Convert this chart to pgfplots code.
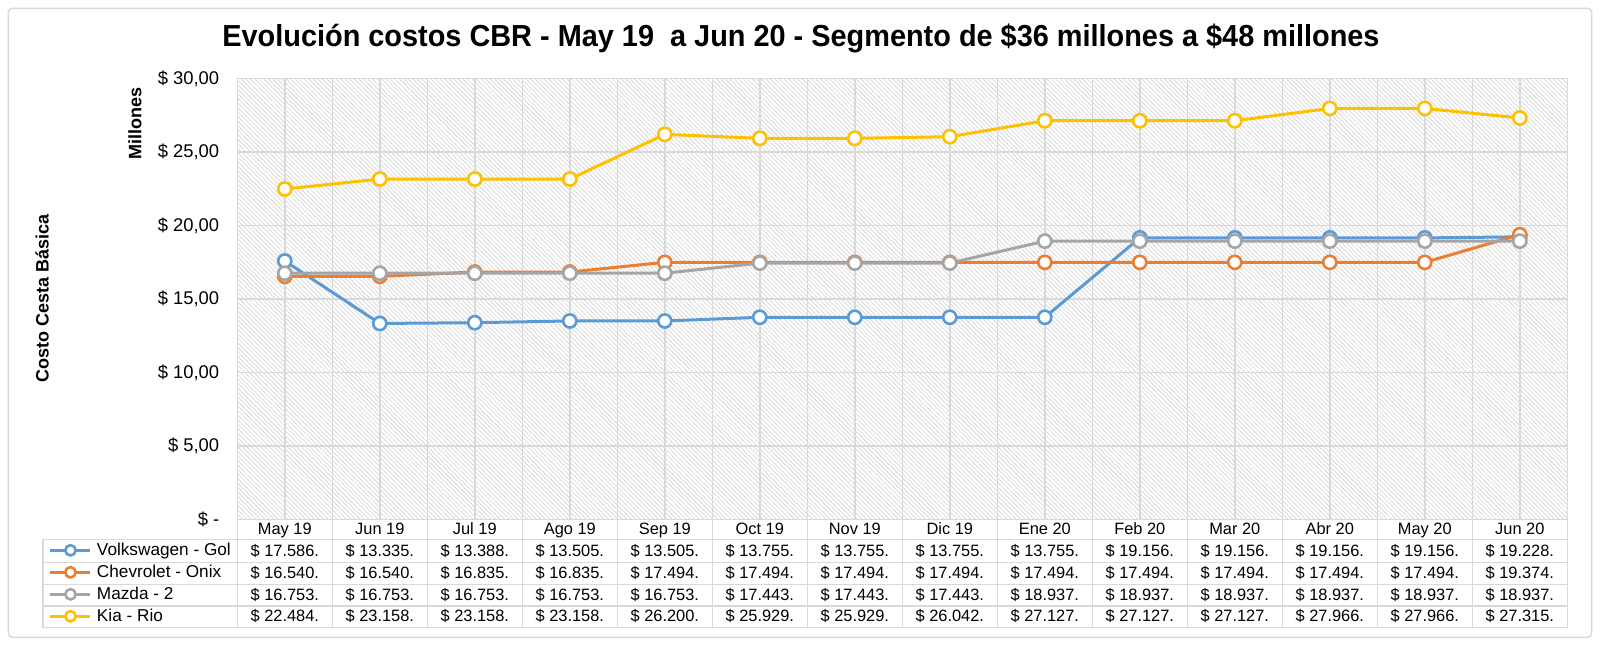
\documentclass[border=0pt]{standalone}
\usepackage{pgfplots}
\pgfplotsset{compat=1.18}
\usepackage{pgfplotstable}
\usepackage{fontspec}
\setmainfont{Liberation Sans}
\newfontfamily\titlefont[FakeStretch=0.95]{Liberation Sans}
\usetikzlibrary{patterns.meta}
\definecolor{cvw}{HTML}{5B9BD5}
\definecolor{cch}{HTML}{ED7D31}
\definecolor{cmz}{HTML}{A5A5A5}
\definecolor{ckia}{HTML}{FFC000}
\definecolor{gridc}{HTML}{D9D9D9}
\definecolor{hatch}{HTML}{D9D9D9}

\pgfplotstableread{
x vw ch mz kia
0 17.586 16.540 16.753 22.484
1 13.335 16.540 16.753 23.158
2 13.388 16.835 16.753 23.158
3 13.505 16.835 16.753 23.158
4 13.505 17.494 16.753 26.200
5 13.755 17.494 17.443 25.929
6 13.755 17.494 17.443 25.929
7 13.755 17.494 17.443 26.042
8 13.755 17.494 18.937 27.127
9 19.156 17.494 18.937 27.127
10 19.156 17.494 18.937 27.127
11 19.156 17.494 18.937 27.966
12 19.156 17.494 18.937 27.966
13 19.228 19.374 18.937 27.315
}\datatable

\begin{document}
\begin{tikzpicture}
\path[use as bounding box] (0,0) rectangle (800pt,324pt);
\draw[gridc, line width=0.75pt, rounded corners=2pt] (4.15pt,5.35pt) rectangle (795.85pt,319.8pt);
\begin{axis}[
  scale only axis, width=665pt, height=220.5pt,
  at={(118.65pt,64.25pt)}, anchor=south west,
  xmin=-0.5, xmax=13.5, ymin=0, ymax=30,
  xtick={-0.5,0,...,13.5}, xticklabels={},
  ytick={0,5,...,30},
  yticklabels={{\$ -\hspace{4.8pt}},{\$ 5,00},{\$ 10,00},{\$ 15,00},{\$ 20,00},{\$ 25,00},{\$ 30,00}},
  grid=major, major grid style={gridc, line width=0.75pt},
  major tick length=0pt,
  axis line style={gridc, line width=0.75pt},
  axis background/.style={pattern={Lines[angle=-45,distance=1.6pt,line width=0.4pt]}, pattern color=hatch},
  yticklabel style={font=\fontsize{9.2}{10}\selectfont, xshift=-5.5pt},
  clip=false,
  legend style={at={(axis description cs:-0.14158,-0.0449)}, anchor=north west, draw=none, fill=none,
    inner sep=0pt, outer sep=0pt, row sep=0pt, column sep=2.5pt,
    font=\fontsize{8.6}{9}\selectfont,
    nodes={inner sep=0pt, minimum height=11pt, anchor=west}},
  legend cell align=left,
  legend image code/.code={\draw[line width=1.5pt, mark size=2.6pt, mark repeat=2, mark phase=2] plot coordinates {(0pt,0pt) (10pt,0pt) (20pt,0pt)};},
]
\addplot[cvw, line width=1.5pt, mark=*, mark size=3.3pt, mark options={fill=white, line width=1.3pt}] table[x=x,y=vw]{\datatable};
\addlegendentry{Volkswagen - Gol}
\addplot[cch, line width=1.5pt, mark=*, mark size=3.3pt, mark options={fill=white, line width=1.3pt}] table[x=x,y=ch]{\datatable};
\addlegendentry{Chevrolet - Onix}
\addplot[cmz, line width=1.5pt, mark=*, mark size=3.3pt, mark options={fill=white, line width=1.3pt}] table[x=x,y=mz]{\datatable};
\addlegendentry{Mazda - 2}
\addplot[ckia, line width=1.5pt, mark=*, mark size=3.3pt, mark options={fill=white, line width=1.3pt}] table[x=x,y=kia]{\datatable};
\addlegendentry{Kia - Rio}
\end{axis}
% data table grid
\begin{scope}[gridc, line width=0.75pt]
\draw (118.65pt,64.25pt) -- (783.65pt,64.25pt);
\draw (21.5pt,54.35pt) -- (783.65pt,54.35pt);
\draw (21.5pt,42.85pt) -- (783.65pt,42.85pt);
\draw (21.5pt,31.85pt) -- (783.65pt,31.85pt);
\draw (21.5pt,21.0pt) -- (783.65pt,21.0pt);
\draw (21.5pt,10.15pt) -- (783.65pt,10.15pt);
\draw (21.5pt,54.35pt) -- (21.5pt,10.15pt);
\foreach \k in {0,...,14} { \draw ({118.65pt+47.5pt*\k},64.25pt) -- ({118.65pt+47.5pt*\k},10.15pt); }
\end{scope}
\begin{scope}[font=\fontsize{8.2}{9}\selectfont]
\foreach \lab [count=\i from 0] in {May 19,Jun 19,Jul 19,Ago 19,Sep 19,Oct 19,Nov 19,Dic 19,Ene 20,Feb 20,Mar 20,Abr 20,May 20,Jun 20} {
  \node[anchor=base, inner sep=0pt] at ({142.4pt+47.5pt*\i},56.85pt) {\lab};
}
\foreach \i in {0,...,13} {
  \pgfplotstablegetelem{\i}{vw}\of\datatable \let\va\pgfplotsretval
  \node[anchor=base, inner sep=0pt] at ({142.4pt+47.5pt*\i},45.85pt) {\$ \pgfmathprintnumber[fixed,fixed zerofill,precision=3,assume math mode=true]{\va}.};
  \pgfplotstablegetelem{\i}{ch}\of\datatable \let\vb\pgfplotsretval
  \node[anchor=base, inner sep=0pt] at ({142.4pt+47.5pt*\i},34.85pt) {\$ \pgfmathprintnumber[fixed,fixed zerofill,precision=3,assume math mode=true]{\vb}.};
  \pgfplotstablegetelem{\i}{mz}\of\datatable \let\vc\pgfplotsretval
  \node[anchor=base, inner sep=0pt] at ({142.4pt+47.5pt*\i},24.0pt) {\$ \pgfmathprintnumber[fixed,fixed zerofill,precision=3,assume math mode=true]{\vc}.};
  \pgfplotstablegetelem{\i}{kia}\of\datatable \let\vd\pgfplotsretval
  \node[anchor=base, inner sep=0pt] at ({142.4pt+47.5pt*\i},13.15pt) {\$ \pgfmathprintnumber[fixed,fixed zerofill,precision=3,assume math mode=true]{\vd}.};
}
\end{scope}
\node[rotate=90, font=\bfseries\fontsize{9}{10}\selectfont] at (21pt,175pt) {Costo Cesta Básica};
\node[rotate=90, font=\bfseries\fontsize{9}{10}\selectfont] at (67.5pt,262.25pt) {Millones};
\node[anchor=base, inner sep=0pt, font=\titlefont\bfseries\fontsize{15.2}{17}\selectfont] at (400.5pt,300.65pt) {Evolución costos CBR - May 19\ \ a Jun 20 - Segmento de \$36 millones a \$48 millones};
\end{tikzpicture}
\end{document}
